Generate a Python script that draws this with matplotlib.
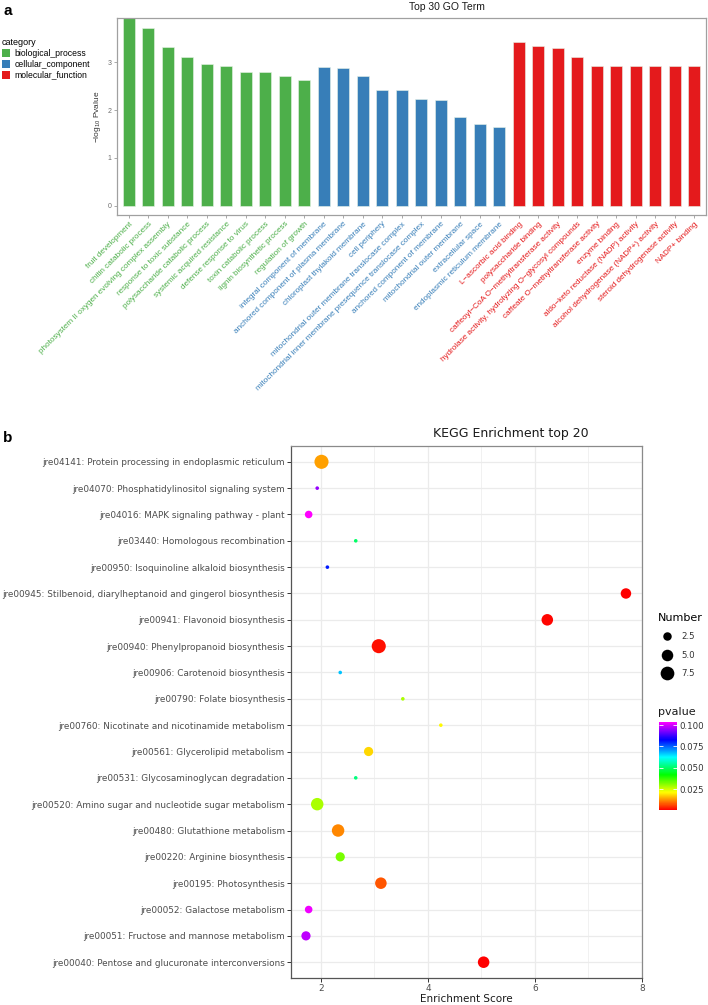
import numpy as np
import matplotlib
matplotlib.use("Agg")
import matplotlib.pyplot as plt
from matplotlib.colors import LinearSegmentedColormap, Normalize
from matplotlib.patches import Patch
from matplotlib.lines import Line2D

plt.rcParams["mathtext.default"] = "regular"

# ---- panel a: GO terms ----
go_categories = ["biological_process", "cellular_component", "molecular_function"]
go_colors = ["#4DAF4A", "#377EB8", "#E41A1C"]

bp_terms = ["fruit development", "chitin catabolic process",
            "photosystem II oxygen evolving complex assembly", "response to toxic substance",
            "polysaccharide catabolic process", "systemic acquired resistance",
            "defense response to virus", "toxin catabolic process",
            "lignin biosynthetic process", "regulation of growth"]
bp_vals = [3.91, 3.72, 3.31, 3.10, 2.97, 2.92, 2.79, 2.79, 2.70, 2.63]

cc_terms = ["integral component of membrane", "anchored component of plasma membrane",
            "chloroplast thylakoid membrane", "cell periphery",
            "mitochondrial outer membrane translocase complex",
            "mitochondrial inner membrane presequence translocase complex",
            "anchored component of membrane", "mitochondrial outer membrane",
            "extracellular space", "endoplasmic reticulum membrane"]
cc_vals = [2.89, 2.87, 2.72, 2.41, 2.41, 2.22, 2.20, 1.85, 1.70, 1.64]

mf_terms = ["L\u2212ascorbic acid binding", "polysaccharide binding",
            "caffeoyl\u2212CoA O\u2212methyltransferase activity",
            "hydrolase activity, hydrolyzing O\u2212glycosyl compounds",
            "caffeate O\u2212methyltransferase activity", "enzyme binding",
            "aldo\u2212keto reductase (NADP) activity",
            "alcohol dehydrogenase (NADP+) activity",
            "steroid dehydrogenase activity", "NADP+ binding"]
mf_vals = [3.41, 3.34, 3.30, 3.10, 2.92, 2.92, 2.92, 2.92, 2.92, 2.92]

# ---- panel b: KEGG ----
kegg_terms = ["jre04141: Protein processing in endoplasmic reticulum",
              "jre04070: Phosphatidylinositol signaling system",
              "jre04016: MAPK signaling pathway - plant",
              "jre03440: Homologous recombination",
              "jre00950: Isoquinoline alkaloid biosynthesis",
              "jre00945: Stilbenoid, diarylheptanoid and gingerol biosynthesis",
              "jre00941: Flavonoid biosynthesis",
              "jre00940: Phenylpropanoid biosynthesis",
              "jre00906: Carotenoid biosynthesis",
              "jre00790: Folate biosynthesis",
              "jre00760: Nicotinate and nicotinamide metabolism",
              "jre00561: Glycerolipid metabolism",
              "jre00531: Glycosaminoglycan degradation",
              "jre00520: Amino sugar and nucleotide sugar metabolism",
              "jre00480: Glutathione metabolism",
              "jre00220: Arginine biosynthesis",
              "jre00195: Photosynthesis",
              "jre00052: Galactose metabolism",
              "jre00051: Fructose and mannose metabolism",
              "jre00040: Pentose and glucuronate interconversions"]
kegg_score = [2.01, 1.93, 1.77, 2.65, 2.12, 7.70, 6.23, 3.08, 2.36, 3.53,
              4.24, 2.89, 2.65, 1.93, 2.32, 2.36, 3.12, 1.77, 1.72, 5.04]
kegg_count = [8, 1, 2, 1, 1, 4, 5, 8, 1, 1, 1, 3, 1, 6, 6, 3, 5, 2, 3, 5]
kegg_p = [0.0135, 0.095, 0.1036, 0.050, 0.081, 0.0008, 0.001, 0.002, 0.067, 0.028,
          0.021, 0.018, 0.052, 0.028, 0.0117, 0.032, 0.0076, 0.102, 0.098, 0.0005]
size_breaks = [2.5, 5.0, 7.5]
p_breaks = [0.025, 0.050, 0.075, 0.100]

W, H = 708, 1005
fig = plt.figure(figsize=(W / 100, H / 100), dpi=100)


def diam_px(n):
    return 3.6 + 10.5 * np.sqrt((np.asarray(n, dtype=float) - 1) / 7)


# ================= panel a =================
top_font = "Liberation Sans"
terms = bp_terms + cc_terms + mf_terms
vals = bp_vals + cc_vals + mf_vals
cols = ([go_colors[0]] * len(bp_terms) + [go_colors[1]] * len(cc_terms)
        + [go_colors[2]] * len(mf_terms))

ax1 = fig.add_axes([117 / W, 1 - 215 / H, 589 / W, 197 / H])
x = np.arange(len(terms))
ax1.bar(x, vals, width=0.6, color=cols, edgecolor="#e8f3e8", linewidth=0.4)
ax1.set_xlim(-0.6, len(terms) - 0.4)
ax1.set_ylim(-0.19, 3.92)
ax1.set_yticks([0, 1, 2, 3])
ax1.set_xticks(x)
ax1.set_xticklabels(terms, rotation=45, ha="right", rotation_mode="anchor",
                    fontsize=5.9, family=top_font)
for lab, c in zip(ax1.get_xticklabels(), cols):
    lab.set_color(c)
for lab in ax1.get_yticklabels():
    lab.set_family(top_font)
ax1.tick_params(axis="both", length=2.5, width=0.6, color="#9a9a9a", pad=1.5)
ax1.tick_params(axis="y", labelsize=5, labelcolor="#6e6e6e")
for s in ax1.spines.values():
    s.set_color("#a0a0a0")
    s.set_linewidth(0.9)
ax1.set_ylabel("\u2212log$_{10}$ Pvalue", fontsize=6, family=top_font,
               color="#333333", labelpad=3)

fig.text(447 / W, 1 - 7 / H, "Top 30 GO Term", ha="center", va="center",
         fontsize=7.5, family=top_font, color="#1a1a1a")
fig.text(3 / W, 1 - 11 / H, "a", ha="left", va="center", fontsize=11,
         fontweight="bold", family=top_font)

fig.legend(handles=[Patch(facecolor=c, edgecolor="none", label=n)
                    for n, c in zip(go_categories, go_colors)],
           title="category", loc="upper left",
           bbox_to_anchor=(0.0, 1 - 36 / H), frameon=False,
           prop={"family": top_font, "size": 6.2},
           title_fontproperties={"family": top_font, "size": 6.5},
           handlelength=1.0, handleheight=1.1, handletextpad=0.5,
           labelspacing=0.22, borderaxespad=0, borderpad=0.2,
           alignment="left")

# ================= panel b =================
cmap = LinearSegmentedColormap.from_list(
    "rb", ["#FF0000", "#FFFF00", "#00FF00", "#00FFFF", "#0000FF", "#FF00FF"])
norm = Normalize(vmin=min(kegg_p), vmax=max(kegg_p))

ax2 = fig.add_axes([291 / W, 1 - 978 / H, 351 / W, 532 / H])
y = np.arange(len(kegg_terms))
sc = ax2.scatter(kegg_score, y, s=(diam_px(kegg_count) * 0.72) ** 2, c=kegg_p,
                 cmap=cmap, norm=norm, linewidths=0, zorder=3)
ax2.set_ylim(len(kegg_terms) - 0.4, -0.6)
ax2.set_xlim(1.44, 8.0)
ax2.set_yticks(y)
ax2.set_yticklabels(kegg_terms)
ax2.set_xticks([2, 4, 6, 8])
ax2.set_xticks([3, 5, 7], minor=True)
ax2.grid(which="major", color="#EBEBEB", linewidth=0.9)
ax2.grid(which="minor", axis="x", color="#EFEFEF", linewidth=0.6)
ax2.set_axisbelow(True)
ax2.tick_params(axis="both", which="major", length=3, width=0.7, color="#333333",
                labelsize=6.4, labelcolor="#4D4D4D", pad=1.5)
ax2.tick_params(axis="x", which="minor", length=0)
for side in ["left", "bottom"]:
    ax2.spines[side].set_color("#555555")
for side in ["top", "right"]:
    ax2.spines[side].set_color("#8a8a8a")
for s in ax2.spines.values():
    s.set_linewidth(0.9)

fig.text(466 / W, 1 - 999 / H, "Enrichment Score", ha="center", va="center",
         fontsize=7.5, color="#1a1a1a")
fig.text(511 / W, 1 - 433 / H, "KEGG Enrichment top 20", ha="center",
         va="center", fontsize=9, color="#1a1a1a")
fig.text(3 / W, 1 - 438 / H, "b", ha="left", va="center", fontsize=11,
         fontweight="bold", family=top_font)

# size legend
size_handles = [Line2D([], [], marker="o", ls="", color="black", markeredgewidth=0,
                       markersize=float(diam_px(n)) * 0.72, label=f"{n:.1f}")
                for n in size_breaks]
fig.legend(handles=size_handles, title="Number", loc="upper left",
           bbox_to_anchor=(658 / W, 1 - 613 / H), frameon=False, fontsize=6.2,
           title_fontsize=8, handlelength=2.0, handletextpad=0.75,
           labelspacing=1.1, borderaxespad=0, borderpad=0, alignment="left",
           labelcolor="#333333")

# colorbar
cax = fig.add_axes([659 / W, 1 - 810 / H, 18 / W, 88 / H])
cb = fig.colorbar(sc, cax=cax, ticks=p_breaks, format="%.3f")
cb.outline.set_visible(False)
cax.tick_params(axis="y", color="white", direction="in", length=3, width=0.6,
                left=True, right=True, labelsize=6.2, labelcolor="#333333", pad=2)
fig.text(658 / W, 1 - 712 / H, "pvalue", ha="left", va="center", fontsize=8,
         color="#1a1a1a")

fig.savefig("out.png", dpi=100)
